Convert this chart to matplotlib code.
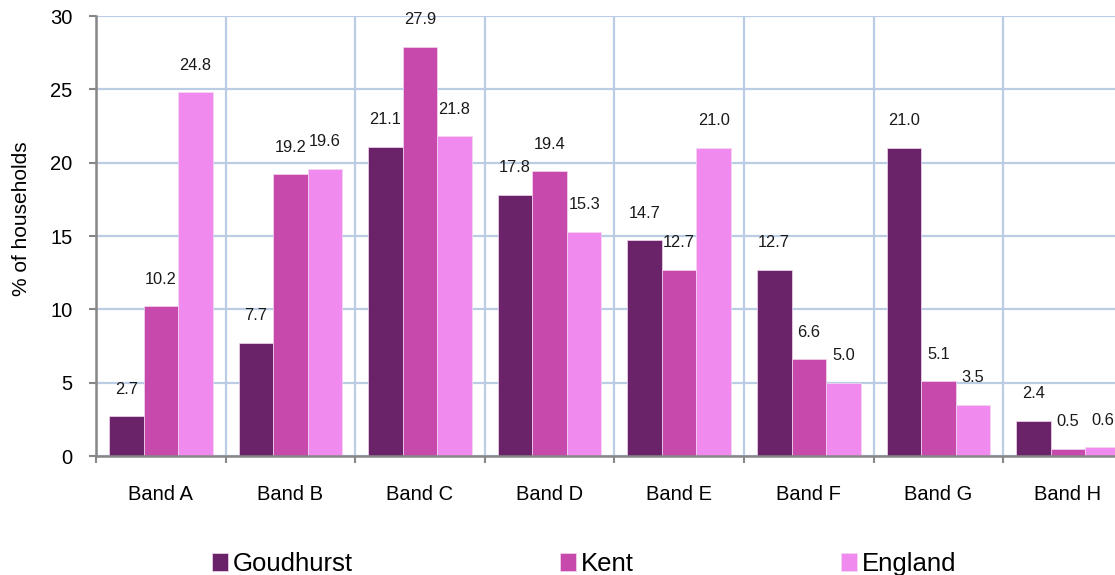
import matplotlib
matplotlib.use("Agg")
import matplotlib.pyplot as plt
import numpy as np

categories = ["Band A", "Band B", "Band C", "Band D", "Band E", "Band F", "Band G", "Band H"]
goudhurst = [2.7, 7.7, 21.1, 17.8, 14.7, 12.7, 21.0, 2.4]
kent = [10.2, 19.2, 27.9, 19.4, 12.7, 6.6, 5.1, 0.5]
england = [24.8, 19.6, 21.8, 15.3, 21.0, 5.0, 3.5, 0.6]
series_names = ["Goudhurst", "Kent", "England"]
series_colors = ["#6A2369", "#C749AC", "#F08AEE"]
y_ticks = [0, 5, 10, 15, 20, 25, 30]

plt.rcParams["font.family"] = ["Liberation Sans", "DejaVu Sans"]

fig = plt.figure(figsize=(11.15, 5.75), dpi=100)
W, H = 1115, 575
ax = fig.add_axes([96 / W, 1 - 456 / H, 8 * 129.6 / W, 440 / H])

x = np.arange(len(categories))
w = 0.8 / 3
data = [goudhurst, kent, england]
containers = []
for i, (vals, name, col) in enumerate(zip(data, series_names, series_colors)):
    bc = ax.bar(x + (i - 1) * w, vals, width=w, color=col, edgecolor="#f4d8f0",
                linewidth=0.5, label=name, zorder=3)
    containers.append(bc)
    for rect, v in zip(bc, vals):
        ax.annotate(f"{v:.1f}", (rect.get_x() + rect.get_width() / 2, v),
                    xytext=(0, 19.5), textcoords="offset points",
                    ha="center", va="center", fontsize=11.8, color="#1a1a1a",
                    zorder=4)

ax.set_xlim(-0.5, len(categories) - 0.5)
ax.set_ylim(0, 30)
ax.set_yticks(y_ticks)
ax.set_xticks(np.arange(len(categories) + 1) - 0.5)
ax.set_xticklabels([])
ax.set_xticks(x, minor=True)
ax.set_xticklabels(categories, minor=True, fontsize=14.5)
ax.tick_params(axis="x", which="minor", length=0, pad=21)
ax.tick_params(axis="x", which="major", length=5, width=1.5, color="#878787", direction="out")
ax.tick_params(axis="y", length=5, width=1.5, color="#878787", direction="out",
               labelsize=14.5, pad=12)

ax.grid(True, which="major", color="#BACDE4", linewidth=1.6, zorder=0)
ax.set_axisbelow(True)
for s in ["top", "right"]:
    ax.spines[s].set_visible(False)
for s in ["left", "bottom"]:
    ax.spines[s].set_color("#878787")
    ax.spines[s].set_linewidth(1.8)
    ax.spines[s].set_zorder(5)

fig.text(22 / W, 1 - 219 / H, "% of households", rotation=90, ha="center", va="center",
         fontsize=15)

fig.legend(handles=containers, labels=series_names, ncol=3, loc="lower left",
           bbox_to_anchor=(212 / W, -0.002), frameon=False, fontsize=18.5,
           handlelength=0.62, handleheight=0.7, handletextpad=0.2,
           columnspacing=8.05, borderpad=0, borderaxespad=0)

fig.savefig("out.png", dpi=100)
